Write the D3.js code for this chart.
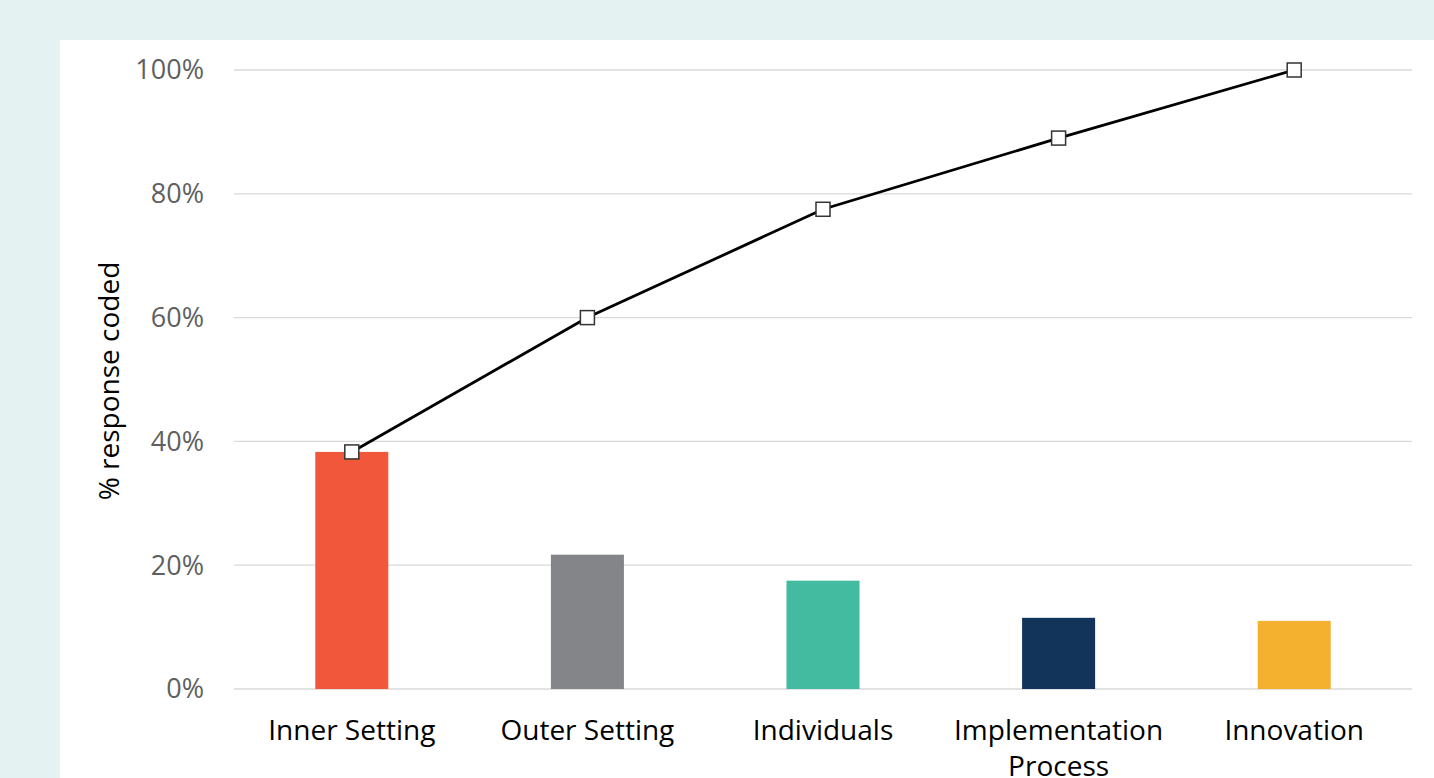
<!DOCTYPE html>
<html><head><meta charset="utf-8">
<script src="https://cdn.jsdelivr.net/npm/d3@7"></script>
<style>
body{margin:0;background:#e4f2f2;overflow:hidden;}
svg{display:block;}
text{font-family:"Open Sans",sans-serif;}
</style></head>
<body>
<svg id="c" width="1434" height="778"></svg>
<script>
const categories = ["Inner Setting","Outer Setting","Individuals","Implementation Process","Innovation"];
const shares = [38.3, 21.7, 17.5, 11.5, 11.0];
const cumulative = [38.3, 60.0, 77.5, 89.0, 100];
const barColors = ["#f0573b","#838589","#43bba0","#12345a","#f4b130"];
const yTicks = [0,20,40,60,80,100];

const svg = d3.select("#c");
svg.append("rect").attr("x",0).attr("y",0).attr("width",1434).attr("height",778).attr("fill","#e4f2f2");
svg.append("rect").attr("x",60).attr("y",40).attr("width",1374).attr("height",738).attr("fill","#fff");

const x = d3.scaleBand().domain(categories).range([234,1412]).paddingInner(0.69).paddingOuter(0.345);
const y = d3.scaleLinear().domain([0,100]).range([689,70]);

// gridlines
svg.append("g").selectAll("line").data(yTicks).join("line")
  .attr("x1",234).attr("x2",1412).attr("y1",d=>y(d)).attr("y2",d=>y(d))
  .attr("stroke","#d9d9d9").attr("stroke-width",1.3);

// y tick labels
svg.append("g").selectAll("text").data(yTicks).join("text")
  .attr("x",204).attr("y",d=>y(d)).attr("dy","0.35em").attr("text-anchor","end")
  .attr("font-size",27).attr("fill","#5f5f5f").text(d=>d+"%");

// axis title
svg.append("text").attr("transform","translate(119,381) rotate(-90)")
  .attr("text-anchor","middle").attr("font-size",28).attr("fill","#000").text("% response coded");

// bars
svg.append("g").selectAll("rect").data(categories).join("rect")
  .attr("x",d=>x(d)).attr("width",x.bandwidth())
  .attr("y",(d,i)=>y(shares[i])).attr("height",(d,i)=>y(0)-y(shares[i]))
  .attr("fill",(d,i)=>barColors[i]);

// category labels
const cx = d=>x(d)+x.bandwidth()/2;
const lab = svg.append("g").selectAll("text").data(categories).join("text")
  .attr("x",d=>cx(d)).attr("y",740).attr("text-anchor","middle")
  .attr("font-size",28).attr("fill","#000");
lab.each(function(d){
  const t = d3.select(this);
  const parts = d==="Implementation Process" ? ["Implementation","Process"] : [d];
  parts.forEach((p,k)=>t.append("tspan").attr("x",cx(d)).attr("dy",k?36:0).text(p));
});

// cumulative line
const line = d3.line().x((d,i)=>cx(categories[i])).y(d=>y(d));
svg.append("path").datum(cumulative).attr("d",line).attr("fill","none")
  .attr("stroke","#000").attr("stroke-width",2.8);
svg.append("g").selectAll("rect").data(cumulative).join("rect")
  .attr("x",(d,i)=>cx(categories[i])-7).attr("y",d=>y(d)-7)
  .attr("width",14).attr("height",14).attr("fill","#fff")
  .attr("stroke","#333").attr("stroke-width",1.5);
</script>
</body></html>
